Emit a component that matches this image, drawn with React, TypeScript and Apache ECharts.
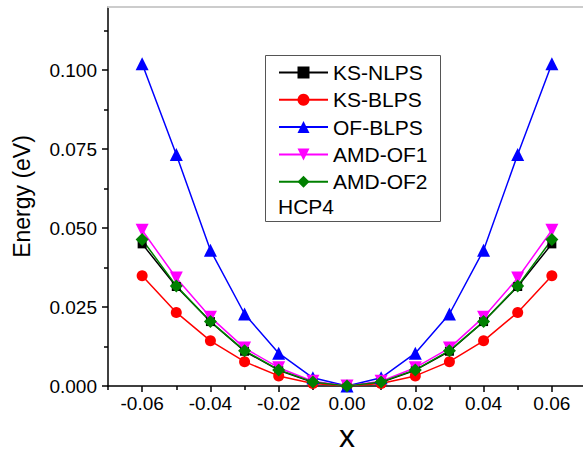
import React, { useEffect, useRef } from 'react';
import * as echarts from 'echarts';

const xValues = [-0.06, -0.05, -0.04, -0.03, -0.02, -0.01, 0, 0.01, 0.02, 0.03, 0.04, 0.05, 0.06];
const ksNlps = [0.045, 0.0315, 0.0204, 0.011, 0.005, 0.0012, 0, 0.0012, 0.005, 0.011, 0.0204, 0.0315, 0.045];
const ksBlps = [0.0349, 0.0233, 0.0143, 0.0077, 0.0032, 0.0008, 0, 0.0008, 0.0032, 0.0077, 0.0143, 0.0233, 0.0349];
const ofBlps = [0.102, 0.0733, 0.043, 0.0228, 0.0104, 0.0026, 0, 0.0026, 0.0104, 0.0228, 0.043, 0.0733, 0.102];
const amdOf1 = [0.0493, 0.0342, 0.0218, 0.012, 0.0058, 0.0015, 0, 0.0015, 0.0058, 0.012, 0.0218, 0.0342, 0.0493];
const amdOf2 = [0.0464, 0.0317, 0.0204, 0.0112, 0.0051, 0.0013, 0, 0.0013, 0.0051, 0.0112, 0.0204, 0.0317, 0.0464];

const seriesNames = ['KS-NLPS', 'KS-BLPS', 'OF-BLPS', 'AMD-OF1', 'AMD-OF2'];
const xMajorTicks = [-0.06, -0.04, -0.02, 0, 0.02, 0.04, 0.06];
const xMinorTicks = [-0.07, -0.05, -0.03, -0.01, 0.01, 0.03, 0.05, 0.07];
const yMajorTicks = [0, 0.025, 0.05, 0.075, 0.1];
const yMinorTicks = [0.0125, 0.0375, 0.0625, 0.0875, 0.1125];
const annotation = 'HCP4';

const FONT = '"Liberation Sans", Arial, sans-serif';

export default function App() {
  const ref = useRef<HTMLDivElement>(null);
  useEffect(() => {
    if (!ref.current) return;
    const chart = echarts.init(ref.current, null, { renderer: 'svg' });
    const pair = (ys: number[]) => xValues.map((x, i) => [x, ys[i]]);
    const mk = (name: string, ys: number[], color: string, symbol: string, size: number, rotate = 0) => ({
      name,
      type: 'line',
      data: pair(ys),
      symbol,
      symbolSize: size,
      symbolRotate: rotate,
      showSymbol: true,
      lineStyle: { color, width: 1.5 },
      itemStyle: { color },
      emphasis: { disabled: true },
      xAxisIndex: 0,
      yAxisIndex: 0,
    });
    const axisBase = {
      type: 'value',
      splitLine: { show: false },
    };
    chart.setOption({
      animation: false,
      backgroundColor: '#ffffff',
      textStyle: { fontFamily: FONT },
      grid: { left: 108, top: 7, right: -3, bottom: 68, containLabel: false, outerBoundsMode: 'none' },
      xAxis: [
        {
          ...axisBase,
          position: 'bottom',
          min: -0.07,
          max: 0.07,
          name: 'x',
          nameLocation: 'middle',
          nameGap: 38,
          nameTextStyle: { fontSize: 32, lineHeight: 24, color: '#000', fontFamily: FONT },
          axisLine: { show: true, onZero: false, lineStyle: { color: '#000', width: 1.5 } },
          axisTick: { show: true, inside: false, length: 6, customValues: xMajorTicks, lineStyle: { color: '#000', width: 1.5 } },
          axisLabel: {
            show: true,
            customValues: xMajorTicks,
            margin: 8,
            fontSize: 19,
            color: '#000',
            fontFamily: FONT,
            formatter: (v: number) => v.toFixed(2),
          },
        },
        {
          ...axisBase,
          position: 'bottom',
          min: -0.07,
          max: 0.07,
          axisLine: { show: false, onZero: false },
          axisTick: { show: true, inside: false, length: 4, customValues: xMinorTicks, lineStyle: { color: '#000', width: 1.5 } },
          axisLabel: { show: false },
        },
        {
          ...axisBase,
          position: 'top',
          min: -0.07,
          max: 0.07,
          axisLine: { show: true, onZero: false, lineStyle: { color: '#cccccc', width: 2 } },
          axisTick: { show: false },
          axisLabel: { show: false },
        },
      ],
      yAxis: [
        {
          ...axisBase,
          position: 'left',
          min: 0,
          max: 0.12,
          name: 'Energy (eV)',
          nameLocation: 'middle',
          nameGap: 75,
          nameTextStyle: { fontSize: 23, color: '#000', fontFamily: FONT },
          axisLine: { show: true, onZero: false, lineStyle: { color: '#000', width: 1.5 } },
          axisTick: { show: true, inside: false, length: 6, customValues: yMajorTicks, lineStyle: { color: '#000', width: 1.5 } },
          axisLabel: {
            show: true,
            customValues: yMajorTicks,
            margin: 11,
            fontSize: 19,
            color: '#000',
            fontFamily: FONT,
            formatter: (v: number) => v.toFixed(3),
          },
        },
        {
          ...axisBase,
          position: 'left',
          min: 0,
          max: 0.12,
          axisLine: { show: false, onZero: false },
          axisTick: { show: true, inside: false, length: 4, customValues: yMinorTicks, lineStyle: { color: '#000', width: 1.5 } },
          axisLabel: { show: false },
        },
      ],
      legend: {
        data: seriesNames,
        orient: 'vertical',
        left: 278,
        top: 62,
        padding: 0,
        itemWidth: 49,
        itemHeight: 15,
        itemGap: 6.3,
        textStyle: { fontSize: 21, lineHeight: 21, color: '#000', fontFamily: FONT },
        selectedMode: false,
      },
      graphic: [
        {
          type: 'rect',
          left: 263,
          top: 53,
          shape: { width: 175, height: 166 },
          style: { fill: 'none', stroke: '#555555', lineWidth: 1 },
          z: 1,
        },
        {
          type: 'text',
          left: 278,
          top: 196,
          style: { text: annotation, fontSize: 21, fill: '#000', fontFamily: FONT },
          z: 5,
        },
      ],
      series: [
        mk(seriesNames[0], ksNlps, '#000000', 'rect', 9),
        mk(seriesNames[1], ksBlps, '#ff0000', 'circle', 11),
        mk(seriesNames[2], ofBlps, '#0000ff', 'triangle', 13),
        mk(seriesNames[3], amdOf1, '#ff00ff', 'triangle', 13, 180),
        mk(seriesNames[4], amdOf2, '#008000', 'diamond', 13),
      ],
    });
    return () => chart.dispose();
  }, []);
  return (
    <div
      ref={ref}
      style={{ position: 'fixed', left: 0, top: 0, width: 583, height: 454, background: '#fff' }}
    />
  );
}
